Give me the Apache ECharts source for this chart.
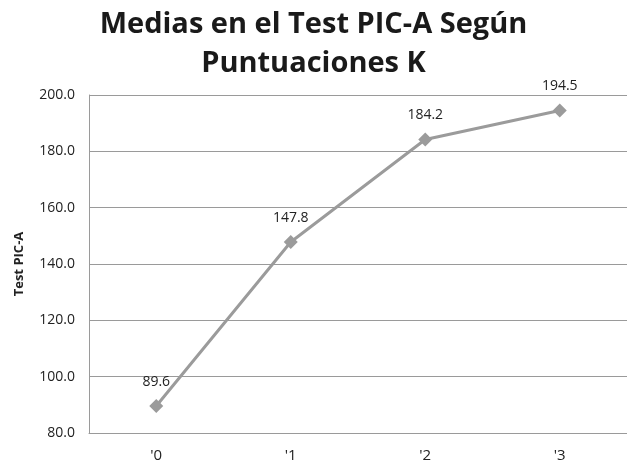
<!DOCTYPE html>
<html lang="es">
<head>
<meta charset="UTF-8">
<title>Medias en el Test PIC-A</title>
<script src="https://cdn.jsdelivr.net/npm/echarts@6/dist/echarts.min.js"></script>
<style>
html, body { margin: 0; padding: 0; background: #fff; }
#chart { width: 627px; height: 467px; }
</style>
</head>
<body>
<div id="chart"></div>
<script>
const categories = ["'0", "'1", "'2", "'3"];
const means = [89.6, 147.8, 184.2, 194.5];
const yTicks = [80, 100, 120, 140, 160, 180, 200];

const chart = echarts.init(document.getElementById('chart'));
chart.setOption({
animation: false,
title: {
text: 'Medias en el Test PIC-A Según\nPuntuaciones K',
left: 'center',
top: 0,
textStyle: {
fontFamily: 'Open Sans',
fontWeight: 'bold',
fontSize: 29,
lineHeight: 39,
color: '#1a1a1a'
}
},
grid: {
left: 89,
right: 0,
top: 95,
bottom: 34
},
xAxis: {
type: 'category',
data: categories,
boundaryGap: true,
axisLine: { lineStyle: { color: '#9a9a9a', width: 1 } },
axisTick: { show: false },
axisLabel: { color: '#222', fontSize: 15, fontFamily: 'Open Sans', margin: 15 }
},
yAxis: {
type: 'value',
min: yTicks[0],
max: yTicks[yTicks.length - 1],
interval: 20,
name: 'Test PIC-A',
nameLocation: 'middle',
nameGap: 63,
nameTextStyle: { fontFamily: 'Open Sans', fontWeight: 'bold', fontSize: 13, color: '#222' },
axisLine: { show: true, lineStyle: { color: '#9a9a9a', width: 1 } },
axisTick: { show: false },
splitLine: { lineStyle: { color: '#9a9a9a', width: 1 } },
axisLabel: {
color: '#222',
fontSize: 14,
fontFamily: 'Open Sans',
margin: 14,
formatter: v => v.toFixed(1)
}
},
series: [{
type: 'line',
data: means,
symbol: 'diamond',
symbolSize: 14,
lineStyle: { color: '#9b9b9b', width: 3 },
itemStyle: { color: '#9b9b9b' },
label: {
show: true,
position: 'top',
distance: 10,
color: '#222',
fontSize: 14,
fontFamily: 'Open Sans',
formatter: p => p.value.toFixed(1)
}
}]
});
</script>
</body>
</html>
